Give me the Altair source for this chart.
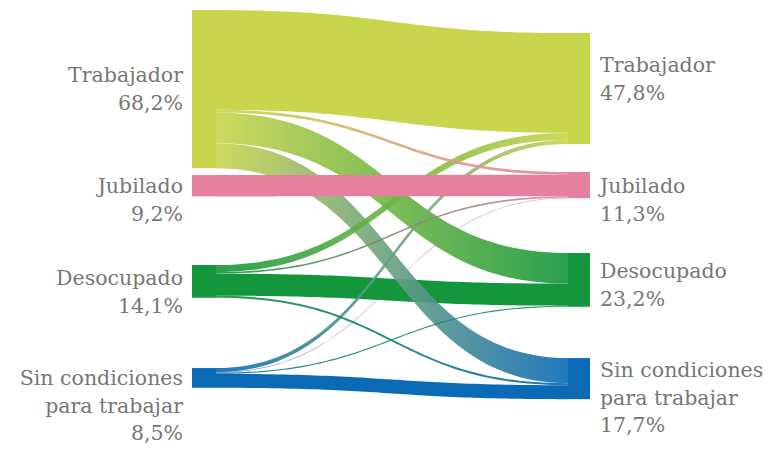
import altair as alt
import pandas as pd
import numpy as np

# ---------------- data ----------------
categories = ["Trabajador", "Jubilado", "Desocupado", "Sin condiciones"]
label_lines = [["Trabajador"], ["Jubilado"], ["Desocupado"], ["Sin condiciones", "para trabajar"]]
left_pct = [68.2, 9.2, 14.1, 8.5]     # before
right_pct = [47.8, 11.3, 23.2, 17.7]  # after
# flow shares (percent of total) from left category i to right category j
flow_T = [43.0, 1.2, 13.2, 10.8]
flow_J = [0.0, 9.2, 0.0, 0.0]
flow_D = [3.0, 0.7, 9.5, 0.9]
flow_S = [1.8, 0.2, 0.5, 6.0]
flows = [flow_T, flow_J, flow_D, flow_S]
colors = ["#c9d54c", "#e6809f", "#14963c", "#0a6ab6"]

# ---------------- layout ----------------
W, H = 762, 436
K = 2.32                      # pixels per percent unit
YMAX = H / K
left_top = [0.9, 72.0, 110.8, 155.2]
right_top = [10.8, 70.7, 105.6, 150.9]
LX0, LX1 = 184, 208
RX0, RX1 = 560, 582
left_label_y = [74, 185, 277, 377]    # first baseline, px in chart
right_label_y = [64, 185, 270, 369]
LINE_H = 27.5
FONT = "DejaVu Serif"
FS = 20.5
TXT = "#777777"

xs = alt.Scale(domain=[0, W], range=[0, W], nice=False, zero=False)
ys = alt.Scale(domain=[0, YMAX], nice=False, zero=False, reverse=True)

# link geometry offsets
lo = [[0.0] * 4 for _ in range(4)]
ro = [[0.0] * 4 for _ in range(4)]
for i in range(4):
    acc = left_top[i]
    for j in range(4):
        lo[i][j] = acc
        acc += flows[i][j]
for j in range(4):
    acc = right_top[j]
    for i in range(4):
        ro[i][j] = acc
        acc += flows[i][j]

t = np.linspace(0, 1, 61)
fx = 1.5 * t * (1 - t) + t ** 3
fy = 3 * t ** 2 - 2 * t ** 3

order = [(0, 0), (2, 2), (3, 3), (0, 2), (0, 3), (2, 0), (3, 0),
         (0, 1), (2, 1), (2, 3), (3, 1), (3, 2), (1, 1)]

layers = []
for (i, j) in order:
    v = flows[i][j]
    if v <= 0:
        continue
    x = LX1 + (RX0 - LX1) * fx
    y0 = lo[i][j] + (ro[i][j] - lo[i][j]) * fy
    df = pd.DataFrame({"x": x, "y": y0, "y2": y0 + v})
    grad = alt.Gradient(
        gradient="linear",
        stops=[alt.GradientStop(color=colors[i], offset=0),
               alt.GradientStop(color=colors[j], offset=1)],
        x1=0, x2=1, y1=0, y2=0,
    )
    op = 1.0 if i == j else 0.9
    layers.append(
        alt.Chart(df).mark_area(color=grad, fillOpacity=op, orient="vertical", interpolate="linear")
        .encode(x=alt.X("x:Q", scale=xs, axis=None),
                y=alt.Y("y:Q", scale=ys, axis=None),
                y2="y2:Q")
    )

nodes = pd.DataFrame({
    "cat": categories * 2,
    "x": [LX0] * 4 + [RX0] * 4,
    "x2": [LX1] * 4 + [RX1] * 4,
    "y": left_top + right_top,
    "y2": [a + b for a, b in zip(left_top, left_pct)] + [a + b for a, b in zip(right_top, right_pct)],
})
node_layer = alt.Chart(nodes).mark_rect().encode(
    x=alt.X("x:Q", scale=xs, axis=None), x2="x2:Q",
    y=alt.Y("y:Q", scale=ys, axis=None), y2="y2:Q",
    color=alt.Color("cat:N", scale=alt.Scale(domain=categories, range=colors), legend=None),
)

def fmt(v):
    return f"{v:.1f}%".replace(".", ",")

rows = []
for i in range(4):
    lines = label_lines[i] + [fmt(left_pct[i])]
    for k, s in enumerate(lines):
        rows.append({"side": "L", "text": s, "x": 175, "y": (left_label_y[i] + k * LINE_H) / K})
    lines = label_lines[i] + [fmt(right_pct[i])]
    for k, s in enumerate(lines):
        rows.append({"side": "R", "text": s, "x": 592, "y": (right_label_y[i] + k * LINE_H) / K})
labels = pd.DataFrame(rows)

left_text = alt.Chart(labels[labels.side == "L"]).mark_text(
    align="right", baseline="alphabetic", font=FONT, fontSize=FS, color=TXT
).encode(x=alt.X("x:Q", scale=xs, axis=None), y=alt.Y("y:Q", scale=ys, axis=None), text="text:N")
right_text = alt.Chart(labels[labels.side == "R"]).mark_text(
    align="left", baseline="alphabetic", font=FONT, fontSize=FS, color=TXT
).encode(x=alt.X("x:Q", scale=xs, axis=None), y=alt.Y("y:Q", scale=ys, axis=None), text="text:N")

chart = alt.layer(*layers, node_layer, left_text, right_text).properties(
    width=W, height=H, padding=0, autosize=alt.AutoSizeParams(type="none")
).configure_view(stroke=None)

chart.save("out.html", embed_options={"renderer": "svg", "actions": False})
